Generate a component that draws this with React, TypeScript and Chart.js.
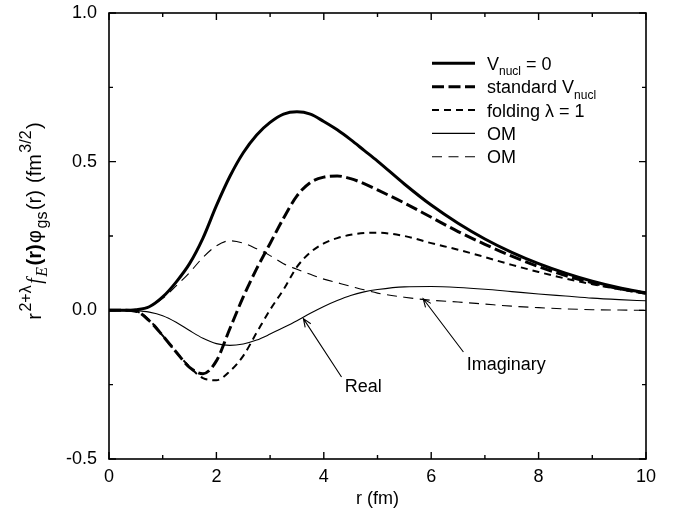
import React, { useEffect, useRef } from 'react';
import { Chart, registerables } from 'chart.js';

Chart.register(...registerables);

// ---------- data ----------
const R = [0, 0.25, 0.5, 0.75, 1, 1.25, 1.5, 1.75, 2, 2.25, 2.5, 2.75, 3, 3.25, 3.5, 3.75, 4, 4.25, 4.5, 4.75, 5, 5.5, 6, 6.5, 7, 7.5, 8, 8.5, 9, 9.5, 10];

const V_NUCL_0 = [0, 0, 0.002, 0.012, 0.045, 0.095, 0.157, 0.243, 0.352, 0.45, 0.53, 0.59, 0.632, 0.66, 0.668, 0.66, 0.635, 0.607, 0.574, 0.538, 0.502, 0.425, 0.354, 0.293, 0.24, 0.195, 0.157, 0.125, 0.098, 0.076, 0.059];
const STANDARD_V = [0, 0, -0.003, -0.035, -0.085, -0.14, -0.192, -0.213, -0.17, -0.062, 0.045, 0.14, 0.225, 0.31, 0.385, 0.43, 0.448, 0.452, 0.443, 0.426, 0.405, 0.361, 0.313, 0.265, 0.222, 0.182, 0.147, 0.117, 0.093, 0.073, 0.057];
const FOLDING = [0, 0, -0.003, -0.033, -0.085, -0.14, -0.19, -0.228, -0.235, -0.205, -0.153, -0.075, 0.002, 0.07, 0.146, 0.195, 0.225, 0.243, 0.254, 0.26, 0.261, 0.25, 0.226, 0.204, 0.179, 0.153, 0.129, 0.107, 0.088, 0.071, 0.056];
const OM_REAL = [0, 0, -0.001, -0.006, -0.018, -0.04, -0.068, -0.094, -0.112, -0.118, -0.113, -0.1, -0.08, -0.058, -0.035, -0.01, 0.013, 0.033, 0.05, 0.062, 0.07, 0.079, 0.08, 0.077, 0.071, 0.063, 0.055, 0.048, 0.041, 0.036, 0.032];
const OM_IMAG = [0, 0, 0.002, 0.012, 0.04, 0.082, 0.127, 0.178, 0.217, 0.234, 0.226, 0.207, 0.184, 0.157, 0.138, 0.121, 0.105, 0.093, 0.081, 0.069, 0.058, 0.044, 0.034, 0.028, 0.021, 0.014, 0.009, 0.005, 0.002, 0.001, 0];

const SERIES_LABELS = ['V_{nucl} = 0', 'standard V_{nucl}', 'folding λ = 1', 'OM', 'OM'];

const X_TICKS = [0, 2, 4, 6, 8, 10];
const X_TICK_LABELS = ['0', '2', '4', '6', '8', '10'];
const X_MINOR = [1, 3, 5, 7, 9];
const Y_TICKS = [-0.5, 0, 0.5, 1];
const Y_TICK_LABELS = ['-0.5', '0.0', '0.5', '1.0'];
const Y_MINOR = [-0.25, 0.25, 0.75];
const X_TITLE = 'r (fm)';

// annotation arrows: head / tail / text anchor in data units
const ANNOTATIONS = [
  { text: 'Real', head: [3.62, -0.028], tail: [4.33, -0.224], at: [4.39, -0.276] },
  { text: 'Imaginary', head: [5.85, 0.039], tail: [6.6, -0.14], at: [6.66, -0.202] },
];

// ---------- styling ----------
const FONT = '"Liberation Sans", Arial, Helvetica, sans-serif';
const SERIF = '"Liberation Serif", "Times New Roman", serif';
const FS = 18;

type Seg = { t: string; k: 'n' | 'sub' | 'sup'; it?: boolean; b?: boolean };

const Y_TITLE: Seg[] = [
  { t: 'r', k: 'n' },
  { t: '2+λ', k: 'sup' },
  { t: 'f', k: 'n', it: true },
  { t: 'E', k: 'sub', it: true },
  { t: '(r)', k: 'n', b: true },
  { t: 'φ', k: 'n' },
  { t: 'gs', k: 'sub' },
  { t: '(r)', k: 'n' },
  { t: ' (fm', k: 'n' },
  { t: '3/2', k: 'sup' },
  { t: ')', k: 'n' },
];

function parseRich(s: string): Seg[] {
  const segs: Seg[] = [];
  let buf = '';
  let i = 0;
  while (i < s.length) {
    if ((s[i] === '_' || s[i] === '^') && s[i + 1] === '{') {
      if (buf) segs.push({ t: buf, k: 'n' });
      buf = '';
      const end = s.indexOf('}', i);
      segs.push({ t: s.slice(i + 2, end), k: s[i] === '_' ? 'sub' : 'sup' });
      i = end + 1;
    } else {
      buf += s[i];
      i++;
    }
  }
  if (buf) segs.push({ t: buf, k: 'n' });
  return segs;
}

function segFont(seg: Seg, size: number, ratio: number) {
  const sz = seg.k === 'n' ? size : Math.round(size * ratio);
  if (seg.it) return `italic ${sz}px ${SERIF}`;
  return `${seg.b ? 'bold ' : ''}${sz}px ${FONT}`;
}

function richWidth(ctx: CanvasRenderingContext2D, segs: Seg[], size: number, ratio: number, gap: number) {
  let w = 0;
  for (const s of segs) {
    ctx.font = segFont(s, size, ratio);
    w += ctx.measureText(s.t).width + gap;
  }
  return w - gap;
}

function drawRich(
  ctx: CanvasRenderingContext2D,
  segs: Seg[],
  x: number,
  y: number,
  size: number,
  ratio = 0.68,
  gap = 0,
  supShift = 0.42,
  subShift = 0.3
) {
  let cx = x;
  ctx.textBaseline = 'alphabetic';
  ctx.textAlign = 'left';
  for (const s of segs) {
    ctx.font = segFont(s, size, ratio);
    const dy = s.k === 'sup' ? -supShift * size : s.k === 'sub' ? subShift * size : 0;
    ctx.fillText(s.t, cx, y + dy);
    cx += ctx.measureText(s.t).width + gap;
  }
  return cx - x;
}

function arrow(ctx: CanvasRenderingContext2D, x1: number, y1: number, x2: number, y2: number) {
  ctx.beginPath();
  ctx.moveTo(x1, y1);
  ctx.lineTo(x2, y2);
  const a = Math.atan2(y2 - y1, x2 - x1);
  const L = 9;
  const sp = 0.38;
  ctx.moveTo(x2 - L * Math.cos(a - sp), y2 - L * Math.sin(a - sp));
  ctx.lineTo(x2, y2);
  ctx.lineTo(x2 - L * Math.cos(a + sp), y2 - L * Math.sin(a + sp));
  ctx.stroke();
}

const decorPlugin = {
  id: 'decor',
  beforeDraw(chart: any) {
    const ctx: CanvasRenderingContext2D = chart.ctx;
    ctx.save();
    ctx.fillStyle = '#fff';
    ctx.fillRect(0, 0, chart.width, chart.height);
    ctx.restore();
  },
  afterDraw(chart: any) {
    const ctx: CanvasRenderingContext2D = chart.ctx;
    const { left, right, top, bottom } = chart.chartArea;
    const xs = chart.scales.x;
    const ys = chart.scales.y;
    ctx.save();
    ctx.strokeStyle = '#000';
    ctx.fillStyle = '#000';
    ctx.setLineDash([]);
    // frame
    ctx.lineWidth = 1.6;
    ctx.strokeRect(left, top, right - left, bottom - top);
    // inward ticks
    ctx.lineWidth = 1.4;
    const MAJ = 7;
    const MIN = 4;
    ctx.beginPath();
    const xt = [...X_TICKS.map((v) => [v, MAJ]), ...X_MINOR.map((v) => [v, MIN])];
    for (const [v, len] of xt) {
      const px = xs.getPixelForValue(v);
      ctx.moveTo(px, bottom);
      ctx.lineTo(px, bottom - len);
      ctx.moveTo(px, top);
      ctx.lineTo(px, top + len);
    }
    const yt = [...Y_TICKS.map((v) => [v, MAJ]), ...Y_MINOR.map((v) => [v, MIN])];
    for (const [v, len] of yt) {
      const py = ys.getPixelForValue(v);
      ctx.moveTo(left, py);
      ctx.lineTo(left + len, py);
      ctx.moveTo(right, py);
      ctx.lineTo(right - len, py);
    }
    ctx.stroke();

    // x title
    ctx.font = `${FS}px ${FONT}`;
    ctx.textAlign = 'center';
    ctx.textBaseline = 'alphabetic';
    ctx.fillText(X_TITLE, (left + right) / 2, bottom + 45);

    // y title (rotated)
    ctx.save();
    const TS = 20;
    const tw = richWidth(ctx, Y_TITLE, TS, 0.8, 1.5);
    ctx.translate(left - 68, (top + bottom) / 2 - 15);
    ctx.rotate(-Math.PI / 2);
    drawRich(ctx, Y_TITLE, -tw / 2, 0, TS, 0.8, 1.5, 0.5, 0.3);
    ctx.restore();

    // legend
    const ds = chart.data.datasets;
    const lx0 = left + 323;
    const lx1 = left + 366;
    const tx = left + 378;
    for (let i = 0; i < ds.length; i++) {
      const y = top + 50.3 + i * 23.35;
      ctx.save();
      ctx.lineWidth = ds[i].borderWidth;
      ctx.setLineDash(ds[i].borderDash || []);
      ctx.lineCap = 'butt';
      ctx.beginPath();
      ctx.moveTo(lx0, y);
      ctx.lineTo(lx1, y);
      ctx.stroke();
      ctx.restore();
      drawRich(ctx, parseRich(ds[i].label), tx, y + 6.5, FS);
    }

    // annotations
    ctx.lineWidth = 1.1;
    ctx.setLineDash([]);
    for (const a of ANNOTATIONS) {
      arrow(
        ctx,
        xs.getPixelForValue(a.tail[0]),
        ys.getPixelForValue(a.tail[1]),
        xs.getPixelForValue(a.head[0]),
        ys.getPixelForValue(a.head[1])
      );
      ctx.font = `${FS}px ${FONT}`;
      ctx.textAlign = 'left';
      ctx.textBaseline = 'alphabetic';
      ctx.fillText(a.text, xs.getPixelForValue(a.at[0]), ys.getPixelForValue(a.at[1]));
    }
    ctx.restore();
  },
};

function pts(vals: number[]) {
  return R.map((r, i) => ({ x: r, y: vals[i] }));
}

export default function App() {
  const ref = useRef<HTMLCanvasElement | null>(null);
  useEffect(() => {
    if (!ref.current) return;
    const common = {
      pointRadius: 0,
      fill: false,
      borderColor: '#000',
      cubicInterpolationMode: 'monotone' as const,
      borderCapStyle: 'butt' as const,
      borderJoinStyle: 'round' as const,
    };
    const chart = new Chart(ref.current, {
      type: 'line',
      data: {
        datasets: [
          { ...common, label: SERIES_LABELS[0], data: pts(V_NUCL_0), borderWidth: 3, borderDash: [] },
          { ...common, label: SERIES_LABELS[1], data: pts(STANDARD_V), borderWidth: 3, borderDash: [12, 4.5] },
          { ...common, label: SERIES_LABELS[2], data: pts(FOLDING), borderWidth: 2, borderDash: [7, 5] },
          { ...common, label: SERIES_LABELS[3], data: pts(OM_REAL), borderWidth: 1.1, borderDash: [] },
          { ...common, label: SERIES_LABELS[4], data: pts(OM_IMAG), borderWidth: 1.1, borderDash: [10, 6.5] },
        ],
      },
      options: {
        responsive: false,
        animation: false,
        events: [],
        layout: { padding: { left: 0, top: 13, right: 35, bottom: 0 } },
        plugins: { legend: { display: false }, tooltip: { enabled: false } },
        scales: {
          x: {
            type: 'linear',
            min: 0,
            max: 10,
            grid: { display: false, drawTicks: false },
            border: { display: false },
            ticks: {
              color: '#000',
              font: { family: FONT, size: FS },
              padding: 7,
              maxRotation: 0,
              autoSkip: false,
              callback: (v: any) => X_TICK_LABELS[X_TICKS.indexOf(Number(v))],
            },
            afterBuildTicks: (s: any) => {
              s.ticks = X_TICKS.map((v) => ({ value: v }));
            },
            afterFit: (s: any) => {
              s.height = 55;
              s.paddingLeft = 0;
              s.paddingRight = 0;
            },
          },
          y: {
            type: 'linear',
            min: -0.5,
            max: 1,
            grid: { display: false, drawTicks: false },
            border: { display: false },
            ticks: {
              color: '#000',
              font: { family: FONT, size: FS },
              padding: 12,
              autoSkip: false,
              callback: (v: any) => Y_TICK_LABELS[Y_TICKS.findIndex((t) => Math.abs(t - Number(v)) < 1e-9)],
            },
            afterBuildTicks: (s: any) => {
              s.ticks = Y_TICKS.map((v) => ({ value: v }));
            },
            afterFit: (s: any) => {
              s.width = 109;
              s.paddingTop = 0;
              s.paddingBottom = 0;
            },
          },
        },
      },
      plugins: [decorPlugin],
    });
    return () => chart.destroy();
  }, []);
  return (
    <div style={{ position: 'fixed', left: 0, top: 0, width: 681, height: 514, background: '#fff' }}>
      <canvas ref={ref} width={681} height={514} style={{ display: 'block', width: 681, height: 514 }} />
    </div>
  );
}
